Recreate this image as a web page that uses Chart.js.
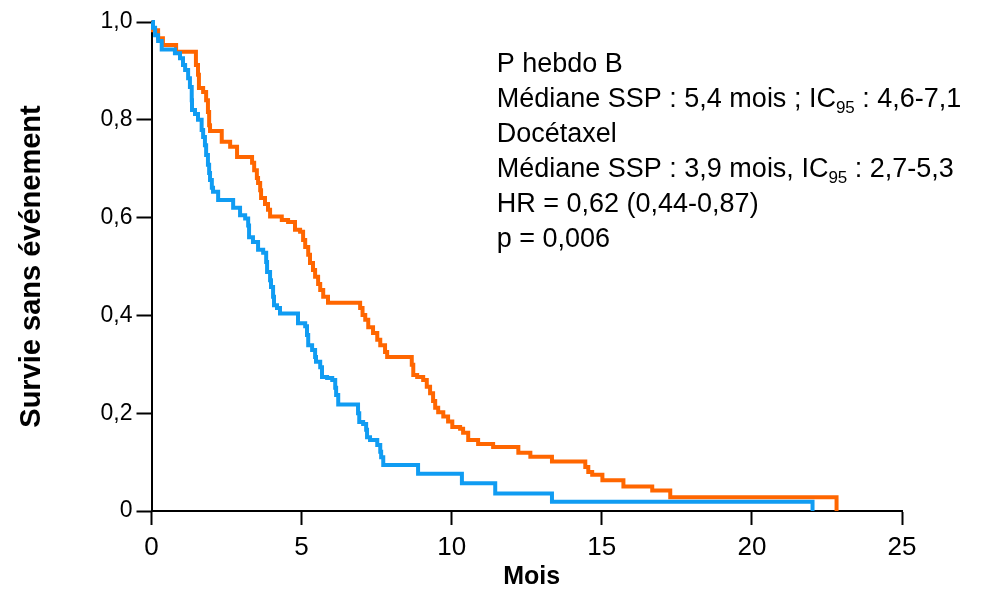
<!DOCTYPE html>
<html><head><meta charset="utf-8">
<script src="https://cdn.jsdelivr.net/npm/chart.js@4/dist/chart.umd.min.js"></script>
<style>html,body{margin:0;padding:0;background:#fff}canvas{display:block}</style>
</head><body>
<canvas id="c" width="982" height="590"></canvas>
<script>
// P hebdo B (orange) Kaplan-Meier: event times (mois) and survival after each event
const hebdoTimes = [0, 0.05, 0.22, 0.38, 0.82, 1.48, 1.55, 1.58, 1.72, 1.82, 1.88, 1.92, 1.95, 2.34, 2.62, 2.85, 3.35, 3.42, 3.51, 3.55, 3.62, 3.65, 3.78, 3.88, 3.95, 4.34, 4.55, 4.78, 4.95, 5.05, 5.12, 5.22, 5.28, 5.38, 5.45, 5.55, 5.62, 5.72, 5.88, 6.95, 7.03, 7.12, 7.22, 7.38, 7.52, 7.62, 7.78, 7.85, 8.67, 8.72, 8.85, 9.05, 9.17, 9.28, 9.38, 9.45, 9.55, 9.72, 9.88, 10.02, 10.28, 10.38, 10.55, 10.88, 11.38, 12.22, 12.62, 13.34, 14.45, 14.55, 14.68, 15.02, 15.72, 16.68, 17.28, 22.82];
const hebdoSurv = [1, 0.983, 0.967, 0.953, 0.939, 0.912, 0.892, 0.865, 0.857, 0.84, 0.816, 0.789, 0.777, 0.755, 0.745, 0.724, 0.712, 0.697, 0.681, 0.671, 0.656, 0.64, 0.628, 0.616, 0.602, 0.595, 0.591, 0.575, 0.571, 0.554, 0.54, 0.524, 0.507, 0.493, 0.479, 0.464, 0.452, 0.438, 0.426, 0.415, 0.401, 0.391, 0.376, 0.364, 0.35, 0.339, 0.325, 0.315, 0.299, 0.278, 0.274, 0.268, 0.254, 0.241, 0.225, 0.211, 0.202, 0.193, 0.183, 0.172, 0.168, 0.16, 0.145, 0.137, 0.131, 0.119, 0.111, 0.101, 0.09, 0.08, 0.074, 0.063, 0.05, 0.042, 0.028, 0];
// Docétaxel (blue)
const doceTimes = [0, 0.05, 0.12, 0.22, 0.34, 0.78, 0.95, 1.05, 1.12, 1.22, 1.28, 1.34, 1.35, 1.45, 1.55, 1.67, 1.72, 1.78, 1.82, 1.88, 1.92, 1.95, 2.01, 2.05, 2.22, 2.72, 2.95, 3.12, 3.22, 3.25, 3.38, 3.55, 3.72, 3.82, 3.85, 3.95, 3.98, 4.05, 4.08, 4.18, 4.28, 4.88, 5.12, 5.18, 5.22, 5.35, 5.45, 5.48, 5.62, 5.68, 5.85, 6.02, 6.12, 6.15, 6.22, 6.88, 6.92, 7.05, 7.15, 7.18, 7.28, 7.52, 7.62, 7.65, 7.72, 8.88, 10.34, 11.45, 13.34, 22.02];
const doceSurv = [1, 0.988, 0.973, 0.961, 0.944, 0.936, 0.926, 0.912, 0.902, 0.885, 0.867, 0.84, 0.82, 0.812, 0.8, 0.779, 0.765, 0.748, 0.728, 0.708, 0.691, 0.677, 0.661, 0.653, 0.636, 0.62, 0.605, 0.598, 0.584, 0.56, 0.55, 0.534, 0.528, 0.509, 0.489, 0.472, 0.458, 0.438, 0.421, 0.415, 0.404, 0.384, 0.378, 0.36, 0.339, 0.329, 0.315, 0.305, 0.294, 0.274, 0.272, 0.268, 0.252, 0.237, 0.218, 0.2, 0.182, 0.178, 0.166, 0.151, 0.145, 0.135, 0.121, 0.11, 0.094, 0.076, 0.057, 0.036, 0.019, 0];

const xTicks = [0, 5, 10, 15, 20, 25];
const xTickLabels = ['0', '5', '10', '15', '20', '25'];
const yTicks = [0, 0.2, 0.4, 0.6, 0.8, 1.0];
const yTickLabels = ['0', '0,2', '0,4', '0,6', '0,8', '1,0'];
const xTitle = 'Mois';
const yTitle = 'Survie sans événement';
const annotationLines = [
  [['P hebdo B', false]],
  [['Médiane SSP : 5,4 mois ; IC', false], ['95', true], [' : 4,6-7,1', false]],
  [['Docétaxel', false]],
  [['Médiane SSP : 3,9 mois, IC', false], ['95', true], [' : 2,7-5,3', false]],
  [['HR = 0,62 (0,44-0,87)', false]],
  [['p = 0,006', false]]
];

const FONT = "'Liberation Sans', Arial, sans-serif";
const pts = (t, s) => t.map((v, i) => ({x: v, y: s[i]}));

const overlay = {
  id: 'overlay',
  afterDraw(chart) {
    const ctx = chart.ctx;
    const ca = chart.chartArea;
    ctx.save();
    ctx.fillStyle = '#000';
    // axis titles
    ctx.font = 'bold 25px ' + FONT;
    ctx.textAlign = 'center';
    ctx.textBaseline = 'middle';
    ctx.fillText(xTitle, (ca.left + ca.right) / 2 + 5, 577);
    ctx.save();
    ctx.translate(32, (ca.top + ca.bottom) / 2);
    ctx.rotate(-Math.PI / 2);
    ctx.font = 'bold 29px ' + FONT;
    ctx.fillText(yTitle, 0, 0);
    ctx.restore();
    // annotation
    const x0 = chart.scales.x.getPixelForValue(11.5);
    ctx.textAlign = 'left';
    ctx.textBaseline = 'alphabetic';
    annotationLines.forEach((line, i) => {
      let x = x0;
      const y = 72 + i * 35;
      line.forEach(([txt, sub]) => {
        ctx.font = (sub ? '17px ' : '27px ') + FONT;
        ctx.fillText(txt, x, sub ? y + 6 : y);
        x += ctx.measureText(txt).width;
      });
    });
    ctx.restore();
  }
};

new Chart(document.getElementById('c'), {
  type: 'line',
  data: {
    datasets: [
      {label: 'Docétaxel', data: pts(doceTimes, doceSurv), borderColor: '#109CF2', borderWidth: 4, stepped: 'before', pointRadius: 0, fill: false, clip: 8, borderJoinStyle: 'miter'},
      {label: 'P hebdo B', data: pts(hebdoTimes, hebdoSurv), borderColor: '#FF6600', borderWidth: 4, stepped: 'before', pointRadius: 0, fill: false, clip: 8, borderJoinStyle: 'miter'}
    ]
  },
  options: {
    responsive: false,
    devicePixelRatio: 1,
    animation: false,
    layout: {padding: {top: 22, right: 80, left: 0, bottom: 0}},
    plugins: {legend: {display: false}, tooltip: {enabled: false}},
    scales: {
      x: {
        type: 'linear', min: 0, max: 25,
        afterBuildTicks: s => { s.ticks = xTicks.map(v => ({value: v})); },
        afterFit: s => { s.height = 79; },
        ticks: {color: '#000', font: {family: FONT, size: 26}, padding: 7, maxRotation: 0,
                callback: (v) => xTickLabels[xTicks.indexOf(v)]},
        grid: {display: true, drawOnChartArea: false, drawTicks: true, tickLength: 14, tickWidth: 2, tickColor: '#000'},
        border: {display: true, color: '#000', width: 2}
      },
      y: {
        type: 'linear', min: 0, max: 1,
        afterBuildTicks: s => { s.ticks = yTicks.map(v => ({value: v})); },
        afterFit: s => { s.width = 151.5; },
        ticks: {color: '#000', font: {family: FONT, size: 23}, padding: 4,
                callback: (v) => yTickLabels[Math.round(v * 5)]},
        grid: {display: true, drawOnChartArea: false, drawTicks: true, tickLength: 15, tickWidth: 2, tickColor: '#000'},
        border: {display: true, color: '#000', width: 2}
      }
    }
  },
  plugins: [overlay]
});
</script>
</body></html>
